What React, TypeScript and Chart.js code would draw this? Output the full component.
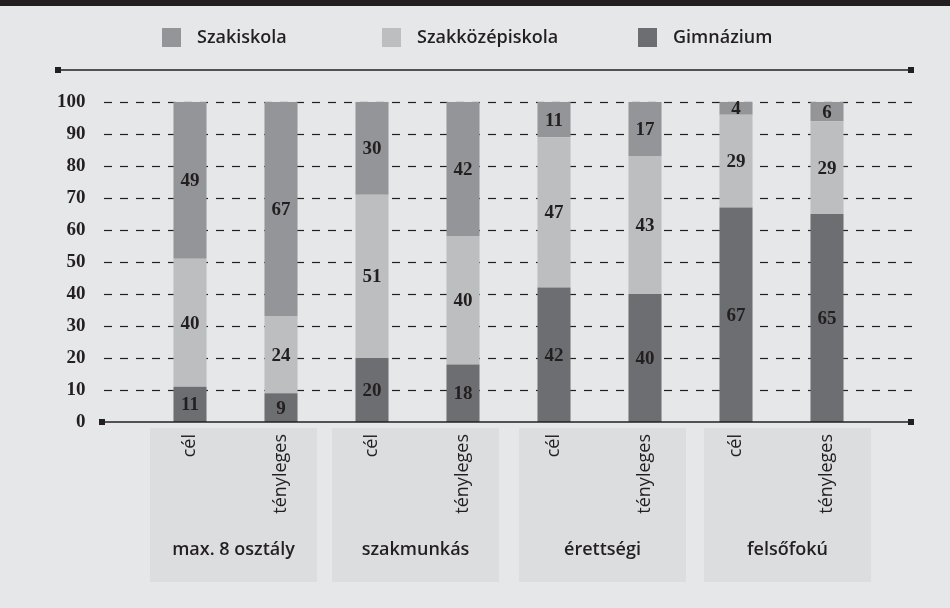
import React, { useEffect, useRef } from "react";
import { Chart, registerables } from "chart.js";

Chart.register(...registerables);

const groups = ["max. 8 osztály", "szakmunkás", "érettségi", "felsőfokú"];
const subLabels = ["cél", "tényleges"];
const seriesNames = ["Gimnázium", "Szakközépiskola", "Szakiskola"];
const gimnazium = [11, 9, 20, 18, 42, 40, 67, 65];
const szakkozep = [40, 24, 51, 40, 47, 43, 29, 29];
const szakiskola = [49, 67, 30, 42, 11, 17, 4, 6];
const yTicks = [0, 10, 20, 30, 40, 50, 60, 70, 80, 90, 100];
const legendOrder = ["Szakiskola", "Szakközépiskola", "Gimnázium"];

const COLORS: Record<string, string> = {
  Gimnázium: "#6d6e71",
  Szakközépiskola: "#bcbec0",
  Szakiskola: "#939598",
};
const DARK = "#231f20";
const BG = "#e6e7e8";
const BOX = "#dcdddf";
const LEGEND_X = [162, 382, 638];
const BOX_X = [150, 332, 519, 704];
const BOX_W = 167;
const SANS = "'Open Sans', 'Noto Sans', sans-serif";
const SERIF = "'Liberation Serif', serif";

const categories: string[] = [];
groups.forEach(() => subLabels.forEach((s) => categories.push(s)));

function square(ctx: CanvasRenderingContext2D, x: number, y: number) {
  ctx.fillRect(x - 3, y - 3, 6, 6);
}

const decor = {
  id: "decor",
  beforeDraw(chart: any) {
    const ctx: CanvasRenderingContext2D = chart.ctx;
    const W = chart.width;
    ctx.save();
    ctx.fillStyle = BG;
    ctx.fillRect(0, 0, W, chart.height);
    ctx.fillStyle = DARK;
    ctx.fillRect(0, 0, W, 6);
    // legend
    ctx.font = `600 18px ${SANS}`;
    ctx.textBaseline = "middle";
    ctx.textAlign = "left";
    legendOrder.forEach((name, i) => {
      ctx.fillStyle = COLORS[name];
      ctx.fillRect(LEGEND_X[i], 28, 19, 19);
      ctx.fillStyle = DARK;
      ctx.fillText(name, LEGEND_X[i] + 35, 37.5);
    });
    // top rule
    ctx.strokeStyle = DARK;
    ctx.lineWidth = 1.5;
    ctx.beginPath();
    ctx.moveTo(57, 70);
    ctx.lineTo(911, 70);
    ctx.stroke();
    ctx.fillStyle = DARK;
    square(ctx, 58, 70);
    square(ctx, 911, 70);
    // group boxes
    ctx.fillStyle = BOX;
    BOX_X.forEach((x) => ctx.fillRect(x, 428, BOX_W, 154));
    ctx.fillStyle = DARK;
    ctx.font = `600 18px ${SANS}`;
    ctx.textAlign = "center";
    groups.forEach((g, i) => ctx.fillText(g, BOX_X[i] + BOX_W / 2, 550));
    ctx.restore();
  },
  beforeDatasetsDraw(chart: any) {
    const ctx: CanvasRenderingContext2D = chart.ctx;
    const y = chart.scales.y;
    ctx.save();
    ctx.strokeStyle = DARK;
    ctx.lineWidth = 1.2;
    ctx.setLineDash([8, 8]);
    yTicks.forEach((v) => {
      if (v === 0) return;
      const py = Math.round(y.getPixelForValue(v)) + 0.5;
      ctx.beginPath();
      ctx.moveTo(104, py);
      ctx.lineTo(913, py);
      ctx.stroke();
    });
    ctx.restore();
  },
  afterDatasetsDraw(chart: any) {
    const ctx: CanvasRenderingContext2D = chart.ctx;
    const y = chart.scales.y;
    ctx.save();
    // axis
    const py = y.getPixelForValue(0);
    ctx.strokeStyle = DARK;
    ctx.lineWidth = 1.5;
    ctx.beginPath();
    ctx.moveTo(102, py);
    ctx.lineTo(911, py);
    ctx.stroke();
    ctx.fillStyle = DARK;
    square(ctx, 102, py);
    square(ctx, 911, py);
    // value labels
    ctx.font = `bold 19px ${SERIF}`;
    ctx.textAlign = "center";
    ctx.textBaseline = "middle";
    chart.data.datasets.forEach((ds: any, di: number) => {
      const meta = chart.getDatasetMeta(di);
      meta.data.forEach((el: any, i: number) => {
        const top = Math.max(el.y, y.getPixelForValue(100));
        ctx.fillText(String(ds.data[i]), el.x, (top + el.base) / 2 + 1);
      });
    });
    ctx.restore();
  },
};

export default function App() {
  const ref = useRef<HTMLCanvasElement | null>(null);
  useEffect(() => {
    document.body.style.margin = "0";
    const values = [gimnazium, szakkozep, szakiskola];
    const chart = new Chart(ref.current as HTMLCanvasElement, {
      type: "bar",
      data: {
        labels: categories,
        datasets: seriesNames.map((name, i) => ({
          label: name,
          data: values[i],
          backgroundColor: COLORS[name],
          borderWidth: 0,
          barPercentage: 0.363,
          categoryPercentage: 1,
        })),
      },
      options: {
        responsive: false,
        animation: false,
        layout: { padding: { top: 102, right: 77.5, bottom: 0, left: 0 } },
        plugins: { legend: { display: false }, tooltip: { enabled: false } },
        scales: {
          x: {
            stacked: true,
            grid: { display: false, drawTicks: false },
            border: { display: false },
            ticks: {
              minRotation: 90,
              maxRotation: 90,
              autoSkip: false,
              padding: 12,
              color: DARK,
              font: { family: SANS, size: 18 },
            },
            afterFit: (s: any) => {
              s.height = 186;
            },
          },
          y: {
            stacked: true,
            min: 0,
            max: 100,
            grid: { display: false, drawTicks: false },
            border: { display: false },
            ticks: {
              stepSize: 10,
              padding: 59,
              color: DARK,
              font: { family: SERIF, size: 19, weight: "bold" },
            },
            afterFit: (s: any) => {
              s.width = 144.5;
            },
          },
        },
      },
      plugins: [decor],
    });
    return () => chart.destroy();
  }, []);
  return (
    <div style={{ position: "absolute", left: 0, top: 0, width: 950, height: 608 }}>
      <canvas ref={ref} width={950} height={608} />
    </div>
  );
}
